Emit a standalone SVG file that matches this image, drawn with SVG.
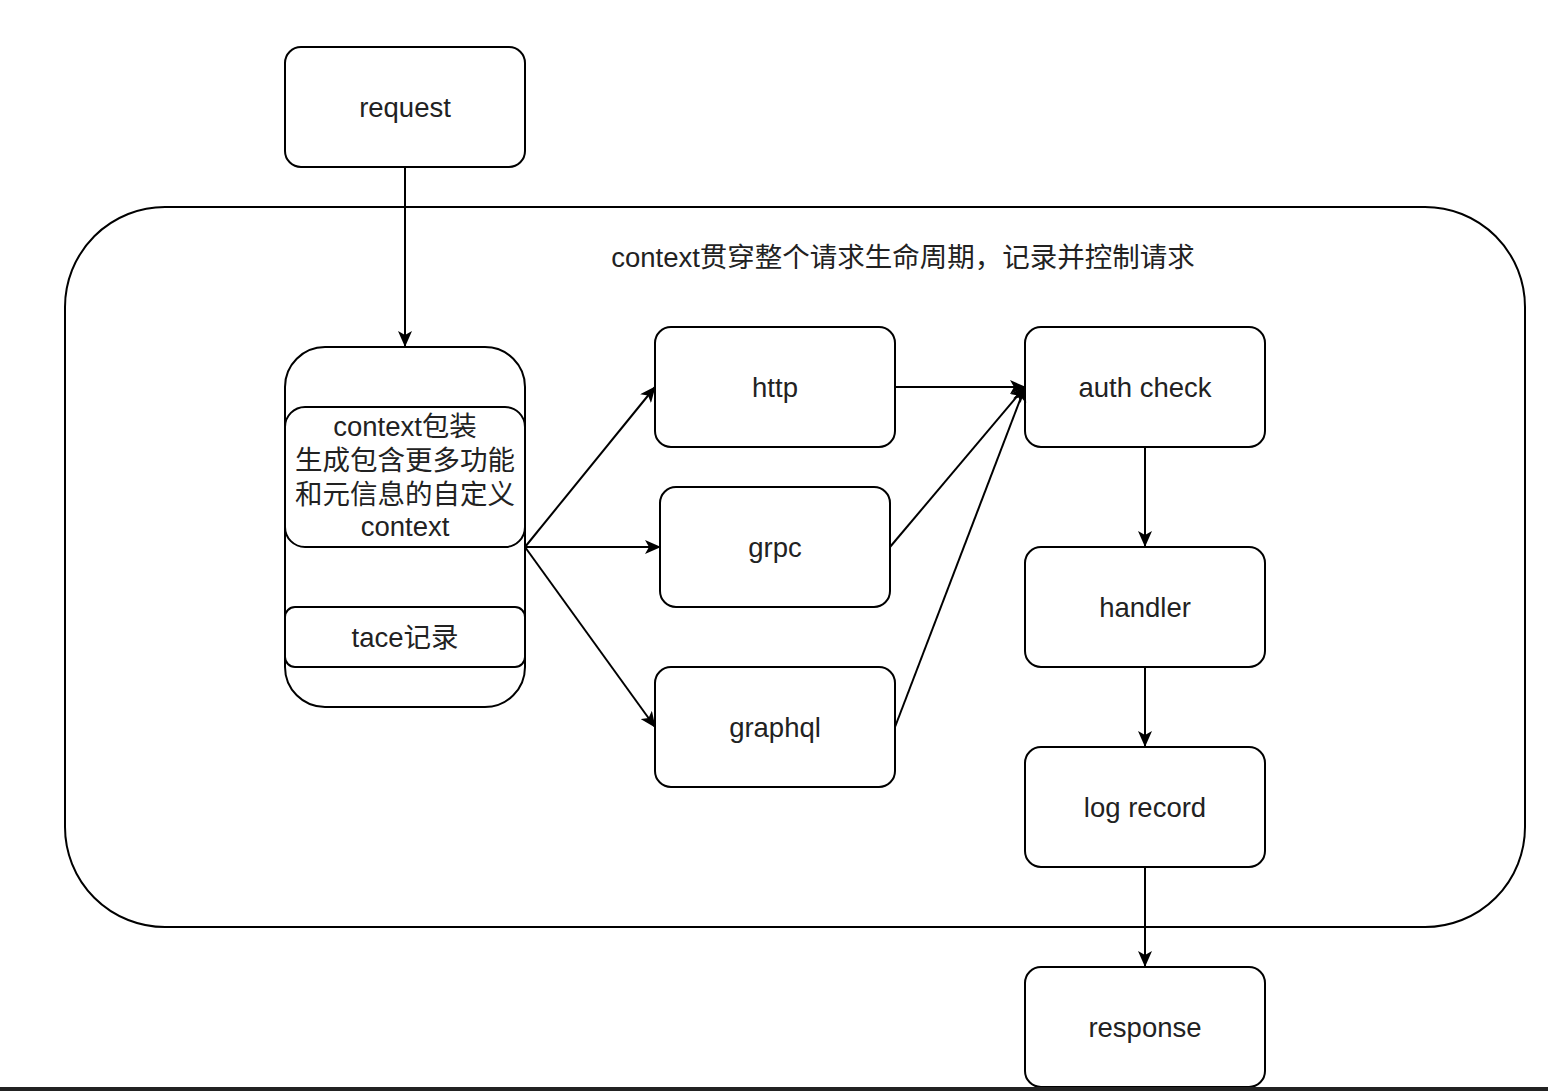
<svg xmlns="http://www.w3.org/2000/svg" width="1548" height="1091" viewBox="0 0 1548 1091">
<style>
.box{fill:#fff;stroke:#000;stroke-width:2}
.t{font-family:"Liberation Sans","Noto Sans CJK SC",sans-serif;font-size:27.5px;fill:#222;text-anchor:middle;dominant-baseline:central}
.c{fill:none;stroke:#000;stroke-width:2}
</style>
<defs>
<marker id="ah" viewBox="0 0 16 14" refX="15" refY="7" markerWidth="16" markerHeight="14" markerUnits="userSpaceOnUse" orient="auto">
<path d="M0,0 L16,7 L0,14 L4,7 Z" fill="#000"/>
</marker>
</defs>
<rect width="1548" height="1091" fill="#fff"/>
<g id="container">
<rect class="box" x="65" y="207" width="1460" height="720" rx="100"/>
<text class="t" x="903" y="257">context贯穿整个请求生命周期，记录并控制请求</text>
</g>
<g id="request"><rect class="box" x="285" y="47" width="240" height="120" rx="16"/><text class="t" x="405" y="107">request</text></g>
<g id="context">
<rect class="box" x="285" y="347" width="240" height="360" rx="40"/>
<rect class="box" x="285" y="407" width="240" height="140" rx="20"/>
<text class="t" x="405" y="426">context包装</text>
<text class="t" x="405" y="460">生成包含更多功能</text>
<text class="t" x="405" y="494">和元信息的自定义</text>
<text class="t" x="405" y="526">context</text>
<rect class="box" x="285" y="607" width="240" height="60" rx="10"/>
<text class="t" x="405" y="637">tace记录</text>
</g>
<g id="http"><rect class="box" x="655" y="327" width="240" height="120" rx="16"/><text class="t" x="775" y="387">http</text></g>
<g id="grpc"><rect class="box" x="660" y="487" width="230" height="120" rx="16"/><text class="t" x="775" y="547">grpc</text></g>
<g id="graphql"><rect class="box" x="655" y="667" width="240" height="120" rx="16"/><text class="t" x="775" y="727">graphql</text></g>
<g id="auth"><rect class="box" x="1025" y="327" width="240" height="120" rx="16"/><text class="t" x="1145" y="387">auth check</text></g>
<g id="handler"><rect class="box" x="1025" y="547" width="240" height="120" rx="16"/><text class="t" x="1145" y="607">handler</text></g>
<g id="log"><rect class="box" x="1025" y="747" width="240" height="120" rx="16"/><text class="t" x="1145" y="807">log record</text></g>
<g id="response"><rect class="box" x="1025" y="967" width="240" height="120" rx="16"/><text class="t" x="1145" y="1027">response</text></g>
<g id="connectors">
<line class="c" x1="405" y1="167" x2="405" y2="346" marker-end="url(#ah)"/>
<line class="c" x1="525" y1="547" x2="655" y2="387" marker-end="url(#ah)"/>
<line class="c" x1="525" y1="547" x2="660" y2="547" marker-end="url(#ah)"/>
<line class="c" x1="525" y1="547" x2="655" y2="727" marker-end="url(#ah)"/>
<line class="c" x1="895" y1="387" x2="1025" y2="387" marker-end="url(#ah)"/>
<line class="c" x1="890" y1="547" x2="1025" y2="387" marker-end="url(#ah)"/>
<line class="c" x1="895" y1="727" x2="1025" y2="387" marker-end="url(#ah)"/>
<line class="c" x1="1145" y1="447" x2="1145" y2="546" marker-end="url(#ah)"/>
<line class="c" x1="1145" y1="667" x2="1145" y2="746" marker-end="url(#ah)"/>
<line class="c" x1="1145" y1="867" x2="1145" y2="966" marker-end="url(#ah)"/>
</g>
<rect x="0" y="1087" width="1548" height="4" fill="#222"/>
</svg>
